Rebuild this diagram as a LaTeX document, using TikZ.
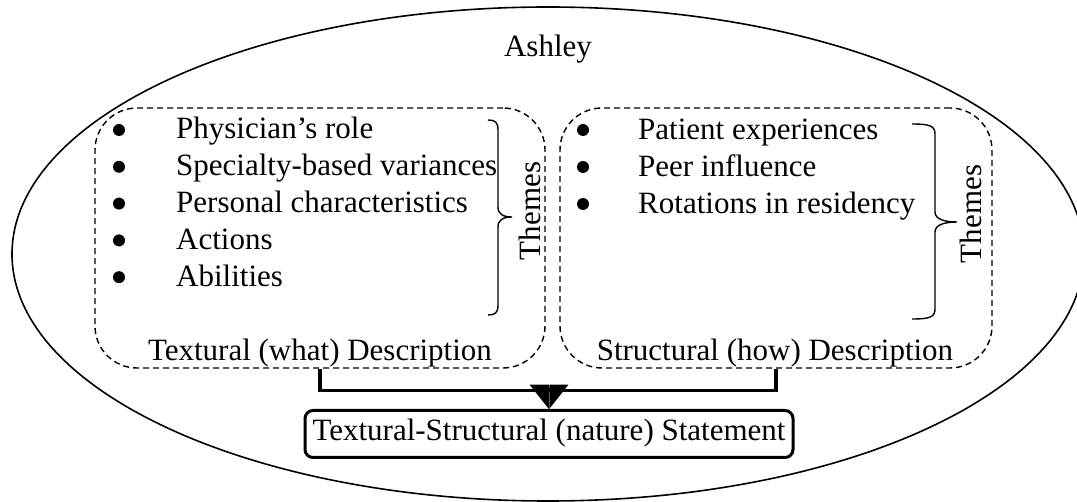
\documentclass[tikz,border=0pt]{standalone}
\usepackage{fontspec}
\setmainfont{Liberation Serif}
\usetikzlibrary{arrows.meta,shapes.geometric}
\begin{document}
\begin{tikzpicture}[x=1pt,y=-1pt,
  every node/.style={font=\fontsize{31}{36}\selectfont, inner sep=0pt},
  item/.style={anchor=base west},
  dotmark/.style={circle, fill, minimum size=12pt},
  title/.style={anchor=base},
  groupbox/.style={draw, dash pattern=on 6pt off 4pt, line width=1.4pt, rounded corners=42pt},
  brace/.style={line width=1.4pt},
  flowl/.style={line width=3.5pt, -{Triangle[length=22pt,width=34pt,harpoon,swap]}},
  flowr/.style={line width=3.5pt, -{Triangle[length=22pt,width=34pt,harpoon]}},
]
\useasboundingbox (0,0) rectangle (1077,502);

% outer case ellipse
\node[draw, ellipse, line width=1.6pt, minimum width=1072pt, minimum height=494pt] (case) at (548,254) {};
\node[title] (name) at (548,57) {Ashley};

% dashed description groups
\node[groupbox, minimum width=450pt, minimum height=260pt] (textural) at (320,238) {};
\node[groupbox, minimum width=432pt, minimum height=260pt] (structural) at (776,238) {};

% textural themes
\foreach \t [count=\i from 0] in {Physician’s role, Specialty-based variances, Personal characteristics, Actions, Abilities} {
  \node[dotmark] (ldot\i) at (119,{130+36.8*\i}) {};
  \node[item] (litem\i) at (176,{139+36.8*\i}) {\t};
}
% structural themes
\foreach \t [count=\i from 0] in {Patient experiences, Peer influence, Rotations in residency} {
  \node[dotmark] (rdot\i) at (583,{130+37*\i}) {};
  \node[item] (ritem\i) at (638,{140+37*\i}) {\t};
}

% braces and their labels
\draw[brace] (488,120) .. controls (495,120) and (498,122) .. (498,130) -- (498,207)
  .. controls (498,214) and (503,217) .. (512,217)
  .. controls (503,217) and (498,220) .. (498,227) -- (498,305)
  .. controls (498,313) and (495,315) .. (488,315);
\node[rotate=90] (lthemes) at (530,211) {Themes};

\draw[brace] (912,124) .. controls (930,124) and (935,126) .. (935,134) -- (935,212)
  .. controls (935,219) and (944,222) .. (957,222)
  .. controls (944,222) and (935,225) .. (935,232) -- (935,309)
  .. controls (935,317) and (930,319) .. (912,319);
\node[rotate=90] (rthemes) at (971,214) {Themes};

% group titles
\node[title] (ltitle) at (320,361) {Textural (what) Description};
\node[title] (rtitle) at (775,361) {Structural (how) Description};

% combined statement
\node[draw, line width=3pt, rounded corners=8pt, minimum width=488pt, minimum height=47pt,
      text height=21pt, text depth=7pt] (statement) at (549,434) {Textural-Structural (nature) Statement};

% connectors
\draw[flowl] (textural.south) -- ++(0,22) -| ([xshift=-2pt]statement.north);
\draw[flowr] (structural.south) -- ++(0,22) -| ([xshift=2pt]statement.north);
\end{tikzpicture}
\end{document}
